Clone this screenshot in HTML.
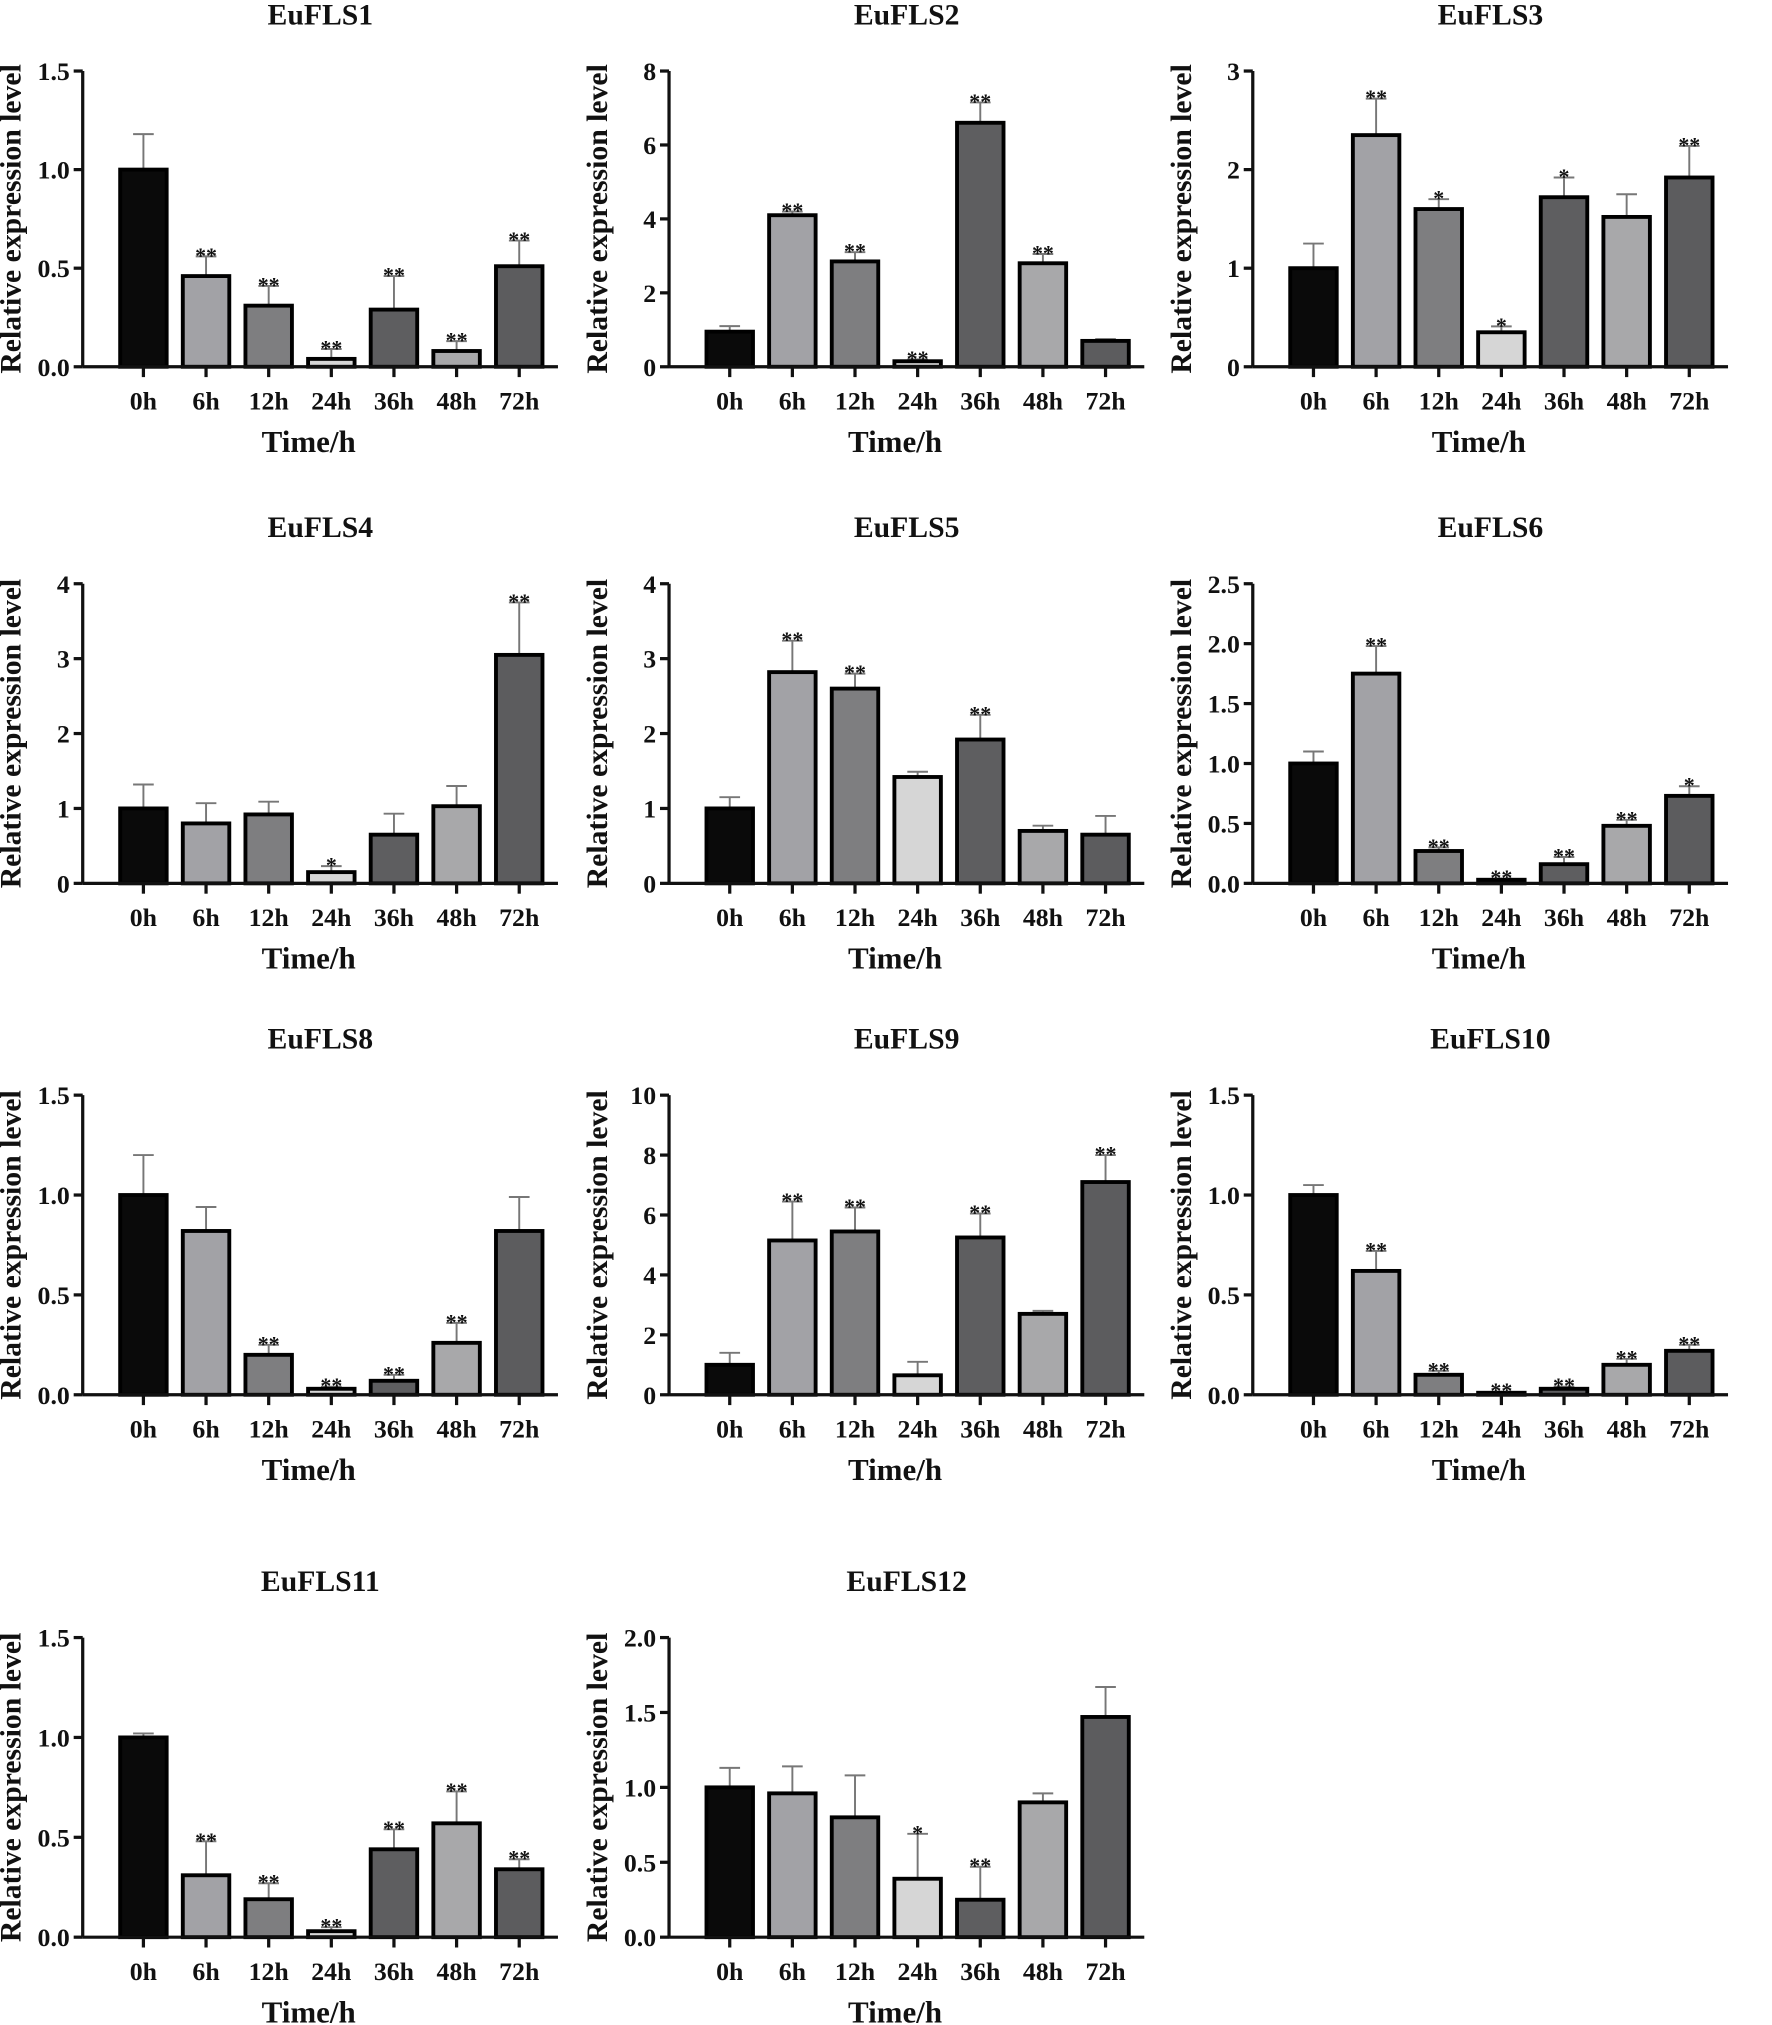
<!DOCTYPE html>
<html><head><meta charset="utf-8"><style>
html,body{margin:0;padding:0;background:#fff}
svg{display:block}
text{font-family:"Liberation Serif",serif;font-weight:bold;fill:#111}
</style></head><body>
<svg id="fig" width="1772" height="2025" viewBox="0 0 1372 1568" xmlns="http://www.w3.org/2000/svg"></svg>
<script>
const categories = ["0h","6h","12h","24h","36h","48h","72h"];
const titles = ["EuFLS1","EuFLS2","EuFLS3","EuFLS4","EuFLS5","EuFLS6","EuFLS8","EuFLS9","EuFLS10","EuFLS11","EuFLS12"];
const yMaxes = [1.5,8,3,4,4,2.5,1.5,10,1.5,1.5,2.0];
const yStepsList = [0.5,2,1,1,1,0.5,0.5,2,0.5,0.5,0.5];
const valFLS1 = [1.0,0.46,0.31,0.04,0.29,0.08,0.51];
const errFLS1 = [0.18,0.1,0.1,0.05,0.17,0.05,0.13];
const sigFLS1 = ["","**","**","**","**","**","**"];
const valFLS2 = [0.95,4.1,2.85,0.15,6.6,2.8,0.7];
const errFLS2 = [0.15,0.1,0.25,0.05,0.55,0.25,0.05];
const sigFLS2 = ["","**","**","**","**","**",""];
const valFLS3 = [1.0,2.35,1.6,0.35,1.72,1.52,1.92];
const errFLS3 = [0.25,0.37,0.1,0.06,0.2,0.23,0.32];
const sigFLS3 = ["","**","*","*","*","","**"];
const valFLS4 = [1.0,0.8,0.92,0.15,0.65,1.03,3.05];
const errFLS4 = [0.32,0.27,0.17,0.08,0.28,0.27,0.7];
const sigFLS4 = ["","","","*","","","**"];
const valFLS5 = [1.0,2.82,2.6,1.42,1.92,0.7,0.65];
const errFLS5 = [0.15,0.42,0.2,0.07,0.33,0.07,0.25];
const sigFLS5 = ["","**","**","","**","",""];
const valFLS6 = [1.0,1.75,0.27,0.03,0.16,0.48,0.73];
const errFLS6 = [0.1,0.23,0.03,0.01,0.06,0.05,0.08];
const sigFLS6 = ["","**","**","**","**","**","*"];
const valFLS8 = [1.0,0.82,0.2,0.03,0.07,0.26,0.82];
const errFLS8 = [0.2,0.12,0.05,0.01,0.03,0.1,0.17];
const sigFLS8 = ["","","**","**","**","**",""];
const valFLS9 = [1.0,5.15,5.45,0.65,5.25,2.7,7.1];
const errFLS9 = [0.4,1.3,0.8,0.45,0.8,0.1,0.9];
const sigFLS9 = ["","**","**","","**","","**"];
const valFLS10 = [1.0,0.62,0.1,0.01,0.03,0.15,0.22];
const errFLS10 = [0.05,0.1,0.02,0.005,0.01,0.03,0.03];
const sigFLS10 = ["","**","**","**","**","**","**"];
const valFLS11 = [1.0,0.31,0.19,0.03,0.44,0.57,0.34];
const errFLS11 = [0.02,0.17,0.08,0.02,0.1,0.16,0.05];
const sigFLS11 = ["","**","**","**","**","**","**"];
const valFLS12 = [1.0,0.96,0.8,0.39,0.25,0.9,1.47];
const errFLS12 = [0.13,0.18,0.28,0.3,0.22,0.06,0.2];
const sigFLS12 = ["","","","*","**","",""];

const vals=[valFLS1,valFLS2,valFLS3,valFLS4,valFLS5,valFLS6,valFLS8,valFLS9,valFLS10,valFLS11,valFLS12];
const errs=[errFLS1,errFLS2,errFLS3,errFLS4,errFLS5,errFLS6,errFLS8,errFLS9,errFLS10,errFLS11,errFLS12];
const sigs=[sigFLS1,sigFLS2,sigFLS3,sigFLS4,sigFLS5,sigFLS6,sigFLS8,sigFLS9,sigFLS10,sigFLS11,sigFLS12];
const fills=["#0a0a0a","#a2a2a6","#7e7e80","#d6d6d6","#5e5e60","#a8a8aa","#5c5c5e"];
const colX=[64,518,970];
const rowTop=[55,452,848,1268], rowBot=[284,684,1080,1500];
const NS="http://www.w3.org/2000/svg";
const svg=document.getElementById('fig');
function mk(tag,attrs,parent){const e=document.createElementNS(NS,tag);for(const k in attrs)e.setAttribute(k,attrs[k]);parent.appendChild(e);return e;}
function fmt(v,step){return step<1?v.toFixed(1):String(Math.round(v));}

titles.forEach((t,i)=>{
  const r=Math.floor(i/3), c=i%3;
  const ax=colX[c], top=rowTop[r], bot=rowBot[r], ymax=yMaxes[i], step=yStepsList[i];
  const ys=v=>bot-(v/ymax)*(bot-top);
  const xs=k=>ax+47+k*48.5;
  const g=mk('g',{},svg);
  
  
  const ti=mk('text',{x:ax+184,y:top-36,'text-anchor':'middle','font-size':23},g);ti.textContent=t;
  
  
  const yl=mk('text',{transform:`translate(${ax-48},${(top+bot)/2}) rotate(-90)`,'text-anchor':'middle','font-size':23},g);yl.textContent='Relative expression level';
  
  
  const xl=mk('text',{x:ax+175,y:bot+66,'text-anchor':'middle','font-size':24},g);xl.textContent='Time/h';
  
  
  for(let v=0;v<=ymax+1e-9;v+=step){
    const y=ys(v);
    mk('line',{x1:ax-7,x2:ax,y1:y,y2:y,stroke:'#111','stroke-width':2.5},g);
    const tl=mk('text',{x:ax-10,y:y+7,'text-anchor':'end','font-size':20},g);tl.textContent=fmt(v,step);
    
    
  }
  categories.forEach((cat,k)=>{
    const cx=xs(k), v=vals[i][k], e=errs[i][k];
    const yt=ys(v+e);
    mk('line',{x1:cx,x2:cx,y1:ys(v),y2:yt,stroke:'#777','stroke-width':1.5},g);
    mk('line',{x1:cx-8,x2:cx+8,y1:yt,y2:yt,stroke:'#777','stroke-width':1.5},g);
    const h=Math.max(bot-ys(v),1.5);
    const b=mk('rect',{x:cx-18,y:bot-h,width:36,height:h,fill:fills[k],stroke:'#000','stroke-width':3},g);
    
    
    if(sigs[i][k]){const s=mk('text',{x:cx,y:yt+5,'text-anchor':'middle','font-size':17},g);s.textContent=sigs[i][k];
      
      }
    mk('line',{x1:cx,x2:cx,y1:bot,y2:bot+8,stroke:'#111','stroke-width':2.5},g);
    const xt=mk('text',{x:cx,y:bot+33,'text-anchor':'middle','font-size':20},g);xt.textContent=cat;
    
    
  });
  mk('line',{x1:ax,x2:ax,y1:top,y2:bot,stroke:'#111','stroke-width':2.5},g);
  mk('line',{x1:ax,x2:ax+368,y1:bot,y2:bot,stroke:'#111','stroke-width':2.5},g);
});
</script>
</body></html>
